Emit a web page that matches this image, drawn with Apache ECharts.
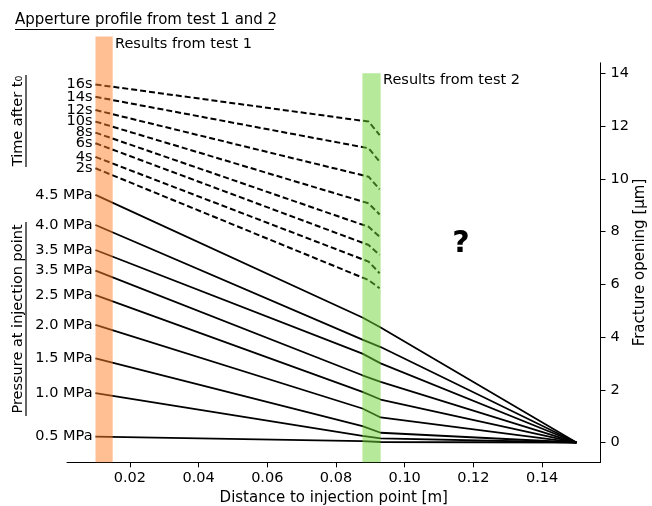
<!DOCTYPE html>
<html><head><meta charset="utf-8">
<script src="https://cdn.jsdelivr.net/npm/echarts@6/dist/echarts.min.js"></script>
<style>html,body{margin:0;padding:0;background:#fff}#c{width:652px;height:506px}</style>
</head><body><div id="c"></div>
<script>
// ---- data ----
const xTicks = [0.02, 0.04, 0.06, 0.08, 0.10, 0.12, 0.14];
const yTicks = [0, 2, 4, 6, 8, 10, 12, 14];

const pressureLabels = ['4.5 MPa', '4.0 MPa', '3.5 MPa', '3.5 MPa', '2.5 MPa', '2.0 MPa', '1.5 MPa', '1.0 MPa', '0.5 MPa'];
const solidX = [0.01, 0.0877, 0.093, 0.15];
const solidStart = [9.39, 8.25, 7.30, 6.52, 5.59, 4.46, 3.19, 1.87, 0.22];
const solidBarIn = [4.74, 3.90, 3.37, 2.55, 1.92, 1.29, 0.62, 0.25, 0.05];
const solidBarOut = [4.36, 3.62, 3.00, 2.30, 1.63, 0.95, 0.37, 0.16, 0.02];
const solidEnd = [0, 0, 0, 0, 0, 0, 0, 0, 0];

const timeLabels = ['16s', '14s', '12s', '10s', '8s', '6s', '4s', '2s'];
const dashedX = [0.01, 0.0895, 0.0927];
const dashedStart = [13.58, 13.11, 12.61, 12.17, 11.75, 11.35, 10.83, 10.40];
const dashedBend = [12.17, 11.16, 10.08, 9.07, 8.18, 7.49, 6.86, 6.16];
const dashedEnd = [11.66, 10.65, 9.60, 8.65, 7.80, 7.11, 6.42, 5.85];

// bands: [x from, x to, top]
const bandTest1 = [0.01, 0.015, 15.4];
const bandTest2 = [0.0877, 0.093, 14.0];

const X_MIN = 0.0017, X_MAX = 0.157, Y_MIN = -0.75, Y_MAX = 14.4;
const FONT = 'DejaVu Sans';

// ---- build ----
const series = [];
function labelFirst(arr, label) {
  return arr.map((p, i) => i === 0 ? {
    value: p,
    label: { show: true, formatter: label, position: 'left', distance: 3, fontSize: 14.5, fontFamily: FONT, color: '#000' }
  } : { value: p });
}
pressureLabels.forEach((lab, i) => {
  const ys = [solidStart[i], solidBarIn[i], solidBarOut[i], solidEnd[i]];
  const pts = solidX.map((x, k) => [x, ys[k]]);
  series.push({
    type: 'line', data: labelFirst(pts, lab), symbol: 'circle', symbolSize: 0, showSymbol: true,
    lineStyle: { color: '#000', width: 1.8 }, itemStyle: { color: '#000' }, z: 2, silent: true, clip: false
  });
});
timeLabels.forEach((lab, i) => {
  const ys = [dashedStart[i], dashedBend[i], dashedEnd[i]];
  const pts = dashedX.map((x, k) => [x, ys[k]]);
  series.push({
    type: 'line', data: labelFirst(pts, lab), symbol: 'circle', symbolSize: 0, showSymbol: true,
    lineStyle: { color: '#000', width: 2, type: [6, 3] }, itemStyle: { color: '#000' }, z: 2, silent: true, clip: false
  });
});
const bandColors = ['#ff7f25', '#6dd535'];
series.push({
  type: 'custom', coordinateSystem: 'cartesian2d', z: 5, silent: true, clip: false,
  data: [[...bandTest1, 0], [...bandTest2, 1]],
  encode: { x: [0, 1], y: 2 },
  renderItem(params, api) {
    const p0 = api.coord([api.value(0), api.value(2)]);
    const p1 = api.coord([api.value(1), Y_MIN]);
    return {
      type: 'rect',
      shape: { x: p0[0], y: p0[1], width: p1[0] - p0[0], height: p1[1] - p0[1] },
      style: { fill: bandColors[api.value(3)], opacity: 0.5 }
    };
  }
});

const chart = echarts.init(document.getElementById('c'), null, { renderer: 'canvas' });
chart.setOption({
  animation: false,
  backgroundColor: '#fff',
  grid: { left: 67, right: 51.5, top: 62.8, bottom: 43.7, outerBoundsMode: 'none' },
  xAxis: {
    type: 'value', min: X_MIN, max: X_MAX,
    name: 'Distance to injection point [m]', nameLocation: 'middle', nameGap: 28,
    nameTextStyle: { fontSize: 15, fontFamily: FONT, color: '#000' },
    axisLine: { show: true, onZero: false, lineStyle: { color: '#000', width: 1 } },
    axisTick: { show: true, length: 5, customValues: xTicks, lineStyle: { color: '#000' } },
    axisLabel: { customValues: xTicks, formatter: v => v.toFixed(2), fontSize: 14.5, fontFamily: FONT, color: '#000', margin: 8 },
    splitLine: { show: false }
  },
  yAxis: {
    type: 'value', position: 'right', min: Y_MIN, max: Y_MAX,
    name: 'Fracture opening [μm]', nameLocation: 'middle', nameRotate: 90, nameGap: 32, nameMoveOverlap: false,
    nameTextStyle: { fontSize: 15, fontFamily: FONT, color: '#000' },
    axisLine: { show: true, onZero: false, lineStyle: { color: '#000', width: 1 } },
    axisTick: { show: true, length: 5, customValues: yTicks, lineStyle: { color: '#000' } },
    axisLabel: { customValues: yTicks, fontSize: 14.5, fontFamily: FONT, color: '#000', margin: 10 },
    splitLine: { show: false }
  },
  graphic: [
    { type: 'text', x: 15, y: 20, style: { text: 'Apperture profile from test 1 and 2', fontSize: 15, fontFamily: FONT, fill: '#000', verticalAlign: 'middle' } },
    { type: 'line', shape: { x1: 15, y1: 29.5, x2: 274, y2: 29.5 }, style: { stroke: '#000', lineWidth: 1.2 } },
    { type: 'text', x: 18, y: 121, rotation: Math.PI / 2, style: { text: 'Time after t₀', fontSize: 14.5, fontFamily: FONT, fill: '#000', align: 'center', verticalAlign: 'middle' } },
    { type: 'line', shape: { x1: 26, y1: 75, x2: 26, y2: 167 }, style: { stroke: '#000', lineWidth: 1.2 } },
    { type: 'text', x: 18, y: 319, rotation: Math.PI / 2, style: { text: 'Pressure at injection point', fontSize: 14.5, fontFamily: FONT, fill: '#000', align: 'center', verticalAlign: 'middle' } },
    { type: 'line', shape: { x1: 26, y1: 222, x2: 26, y2: 416 }, style: { stroke: '#000', lineWidth: 1.2 } },
    { type: 'text', x: 115, y: 44, style: { text: 'Results from test 1', fontSize: 14.5, fontFamily: FONT, fill: '#000', verticalAlign: 'middle' } },
    { type: 'text', x: 383, y: 80, style: { text: 'Results from test 2', fontSize: 14.5, fontFamily: FONT, fill: '#000', verticalAlign: 'middle' } },
    { type: 'text', x: 461, y: 244, style: { text: '?', fontSize: 30, fontWeight: 'bold', fontFamily: FONT, fill: '#000', align: 'center', verticalAlign: 'middle' } }
  ],
  series
});
</script></body></html>
